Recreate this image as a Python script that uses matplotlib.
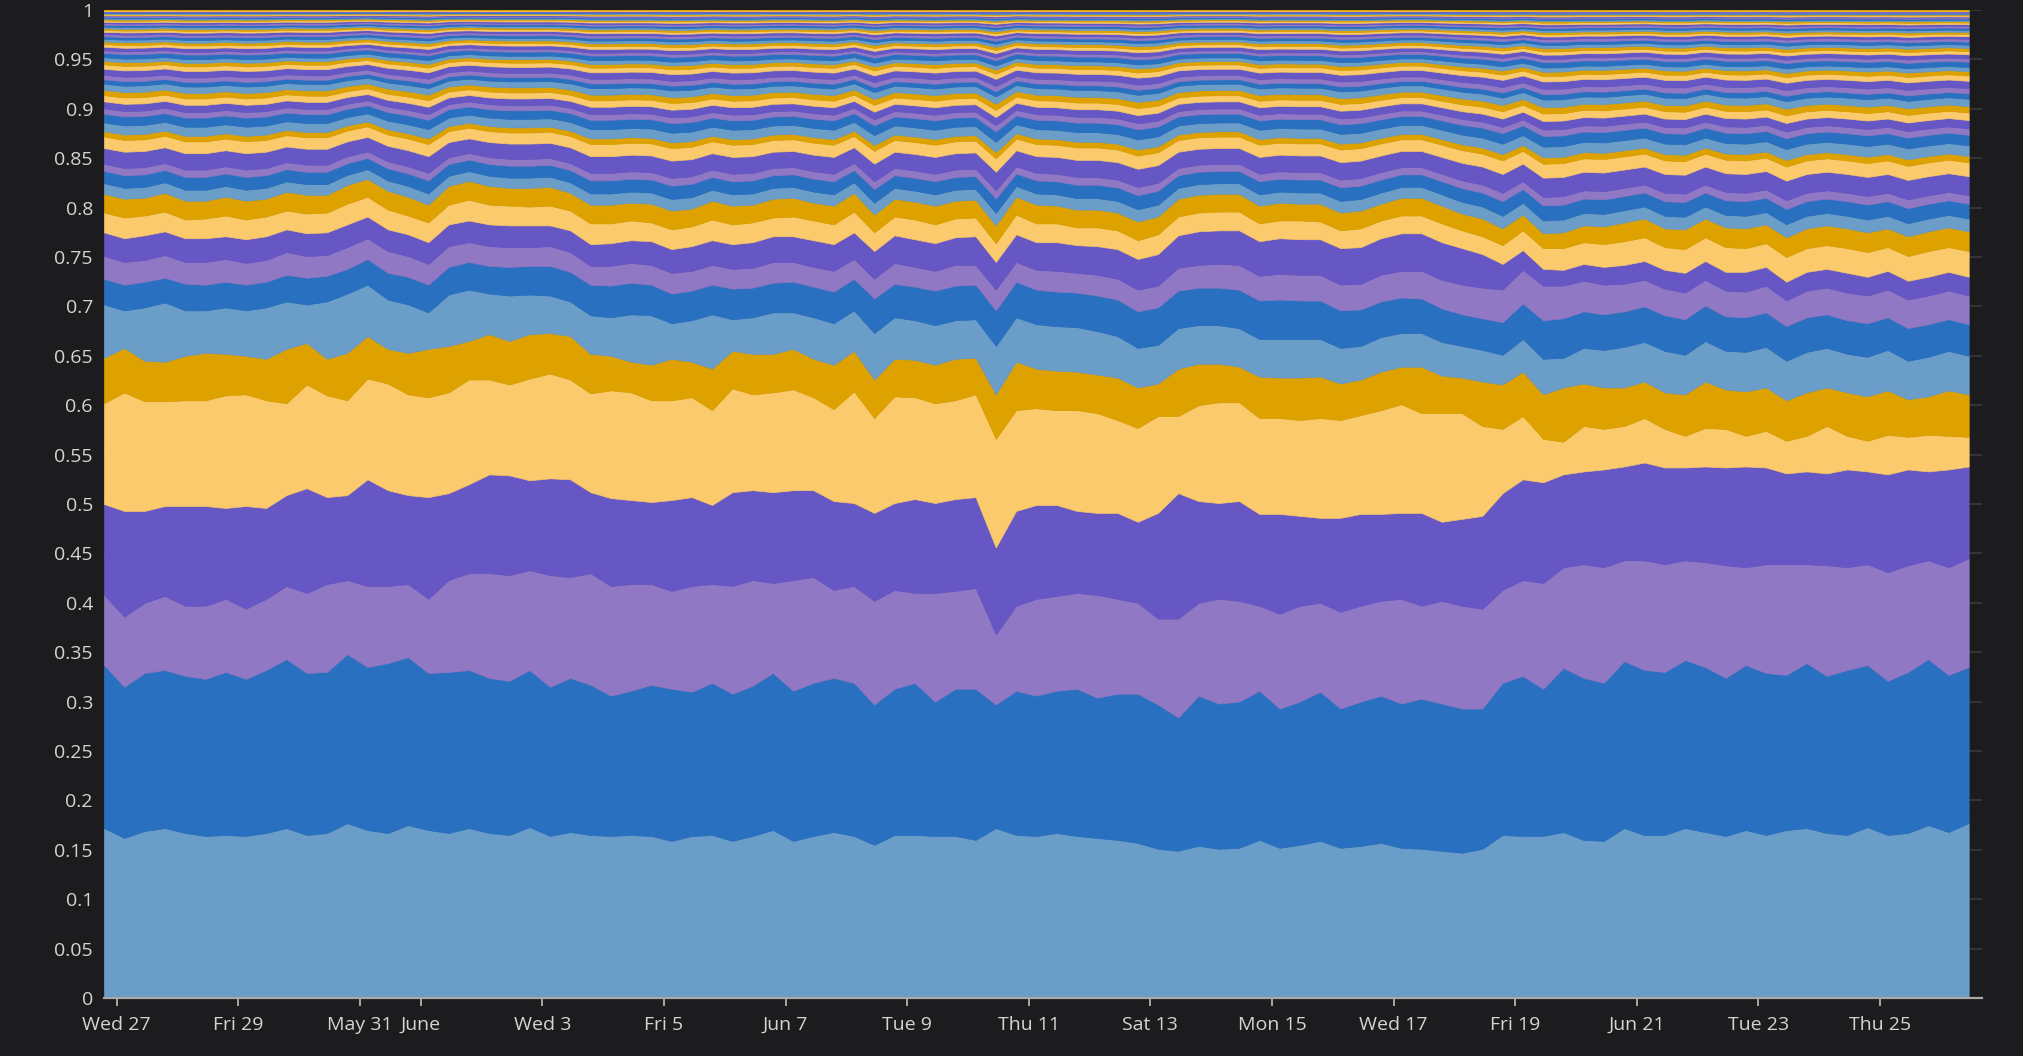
import numpy as np
import pandas as pd
import matplotlib
matplotlib.use("Agg")
import matplotlib.pyplot as plt

# samples every 8 hours, 26 May 19:00 -> 26 June 11:00 (2020)
times = pd.date_range("2020-05-26 19:00", periods=93, freq="8h")

# shares of the twelve biggest series (bottom to top)
share_01 = [.172, .162, .169, .172, .167, .164, .165, .164, .167, .172, .165, .167, .177, .170, .167, .175, .170, .167, .172,
            .167, .165, .173, .164, .168, .165, .164, .165, .164, .159, .164, .165, .159, .164, .170, .159, .164, .168, .164,
            .155, .165, .165, .164, .164, .160, .172, .165, .164, .167, .164, .162, .160, .157, .151, .149, .154, .151,
            .152, .160, .152, .155, .159, .152, .154, .157, .152, .151, .149, .147, .151, .165, .164, .164, .168, .160, .159,
            .172, .165, .165, .172, .168, .164, .170, .165, .170, .172, .167, .165, .173, .165, .167, .175, .168, .177]
share_02 = [.165, .153, .160, .160, .159, .159, .165, .159, .165, .171, .164, .163, .171, .165, .172, .170, .159, .163, .160,
            .157, .156, .159, .151, .156, .152, .142, .146, .153, .154, .146, .154, .149, .152, .159, .152, .155, .156, .155,
            .142, .148, .154, .136, .149, .153, .125, .146, .142, .144, .149, .142, .148, .151, .146, .135, .152, .147,
            .148, .151, .141, .145, .151, .141, .146, .149, .146, .152, .149, .146, .142, .154, .162, .149, .166, .164, .160,
            .169, .167, .165, .170, .167, .160, .167, .164, .157, .167, .159, .167, .164, .156, .163, .168, .159, .158]
share_03 = [.071, .071, .071, .075, .071, .074, .074, .071, .072, .074, .081, .089, .075, .082, .078, .074, .075, .093, .098,
            .106, .107, .101, .113, .102, .113, .111, .108, .102, .099, .107, .100, .109, .107, .091, .112, .107, .089, .098,
            .105, .100, .091, .110, .099, .102, .071, .086, .098, .096, .097, .104, .096, .092, .087, .100, .094, .106,
            .102, .086, .096, .097, .090, .098, .097, .096, .106, .094, .104, .104, .101, .094, .097, .107, .102, .115, .117,
            .102, .111, .109, .101, .106, .114, .099, .110, .112, .100, .112, .104, .102, .110, .108, .100, .109, .110]
share_04 = [.092, .107, .093, .091, .101, .101, .092, .104, .092, .092, .106, .088, .086, .108, .097, .090, .103, .088, .090,
            .100, .101, .091, .098, .099, .082, .089, .085, .083, .092, .090, .080, .095, .091, .092, .091, .088, .090, .084,
            .089, .088, .095, .091, .093, .092, .088, .096, .095, .092, .083, .083, .087, .082, .107, .127, .103, .097,
            .101, .093, .101, .091, .086, .095, .093, .088, .087, .094, .080, .088, .094, .098, .102, .102, .094, .094, .099,
            .095, .099, .098, .094, .097, .099, .102, .098, .092, .094, .093, .099, .094, .099, .097, .090, .099, .093]
share_05 = [.102, .120, .111, .106, .107, .107, .114, .113, .109, .093, .105, .103, .096, .102, .108, .102, .101, .102, .106,
            .096, .092, .103, .106, .101, .100, .109, .109, .103, .101, .101, .096, .105, .097, .101, .102, .094, .093, .113,
            .096, .108, .103, .101, .100, .104, .110, .102, .098, .096, .102, .101, .094, .095, .098, .078, .097, .102,
            .100, .097, .097, .097, .101, .099, .100, .105, .110, .101, .110, .107, .091, .065, .064, .044, .033, .046, .041,
            .041, .045, .039, .032, .039, .039, .031, .037, .033, .036, .048, .034, .031, .040, .033, .037, .034, .030]
share_06 = [.046, .045, .041, .040, .045, .048, .042, .039, .042, .055, .042, .037, .048, .043, .035, .042, .049, .047, .039,
            .046, .044, .045, .041, .044, .040, .035, .031, .036, .042, .036, .042, .038, .041, .039, .041, .039, .045, .041,
            .039, .038, .038, .039, .042, .037, .045, .049, .040, .040, .039, .039, .043, .041, .033, .048, .042, .039,
            .036, .042, .041, .043, .042, .037, .036, .039, .038, .047, .038, .036, .045, .045, .045, .045, .055, .043, .042,
            .039, .037, .037, .042, .047, .040, .045, .044, .041, .044, .039, .044, .045, .045, .038, .039, .046, .043]
share_07 = [.054, .038, .054, .060, .046, .043, .047, .046, .052, .048, .039, .058, .060, .052, .050, .049, .037, .052, .052,
            .041, .046, .040, .038, .035, .039, .039, .048, .050, .036, .042, .055, .032, .037, .042, .037, .042, .042, .041,
            .047, .042, .040, .040, .039, .039, .049, .045, .045, .045, .045, .044, .042, .040, .039, .041, .039, .039,
            .039, .038, .039, .039, .038, .036, .034, .035, .034, .034, .034, .032, .032, .030, .033, .036, .030, .036, .038,
            .041, .040, .042, .040, .041, .039, .040, .041, .040, .041, .040, .039, .040, .041, .039, .040, .040, .039]
share_08 = [.026, .026, .026, .025, .027, .026, .026, .026, .026, .027, .027, .026, .025, .026, .027, .028, .028, .028, .028,
            .028, .029, .029, .030, .030, .031, .032, .032, .031, .030, .030, .030, .031, .030, .030, .031, .031, .032, .032,
            .035, .034, .034, .035, .035, .035, .036, .036, .035, .035, .035, .036, .037, .037, .038, .038, .038, .038,
            .039, .039, .040, .039, .039, .038, .037, .036, .036, .035, .034, .032, .032, .033, .036, .039, .040, .037, .036,
            .036, .036, .036, .036, .036, .035, .035, .035, .035, .035, .034, .034, .034, .033, .033, .033, .032, .032]
share_09 = [.023, .023, .022, .023, .022, .023, .023, .022, .022, .023, .022, .021, .022, .021, .022, .021, .021, .021, .020,
            .020, .020, .019, .020, .020, .019, .020, .020, .020, .021, .020, .020, .020, .020, .021, .020, .020, .021, .020,
            .020, .021, .020, .020, .021, .020, .021, .020, .020, .021, .020, .021, .021, .022, .022, .023, .023, .024,
            .025, .025, .026, .026, .026, .026, .026, .027, .027, .028, .029, .030, .031, .033, .034, .035, .033, .031, .030,
            .028, .027, .027, .027, .026, .026, .026, .027, .026, .027, .027, .028, .028, .028, .029, .029, .029, .029]
share_10 = [.024, .024, .025, .024, .024, .024, .023, .024, .024, .023, .023, .023, .023, .022, .022, .022, .022, .022, .022,
            .022, .022, .022, .021, .022, .022, .023, .023, .024, .024, .025, .025, .025, .026, .026, .026, .027, .027, .027,
            .028, .028, .028, .028, .028, .029, .028, .028, .028, .029, .028, .029, .030, .031, .032, .033, .034, .034,
            .035, .035, .036, .036, .036, .037, .037, .037, .038, .038, .038, .037, .034, .026, .020, .017, .016, .017, .018,
            .019, .019, .019, .020, .019, .019, .020, .019, .019, .019, .019, .020, .019, .019, .019, .019, .019, .019]
share_11 = [.020, .021, .020, .020, .019, .020, .021, .020, .020, .019, .020, .020, .021, .020, .020, .019, .020, .020, .021,
            .020, .020, .019, .020, .020, .021, .020, .020, .019, .020, .020, .021, .020, .020, .019, .020, .020, .020, .021,
            .019, .019, .020, .019, .019, .019, .019, .020, .019, .019, .018, .019, .019, .019, .020, .019, .019, .019,
            .019, .018, .018, .019, .018, .018, .019, .018, .018, .018, .019, .018, .018, .019, .020, .021, .022, .022, .023,
            .024, .024, .023, .024, .024, .025, .024, .024, .025, .024, .024, .025, .025, .024, .025, .026, .025, .026]
share_12 = [.019, .019, .018, .019, .019, .018, .019, .019, .018, .019, .019, .018, .019, .018, .019, .019, .018, .019, .019,
            .019, .018, .019, .019, .018, .019, .019, .018, .019, .019, .018, .019, .019, .018, .019, .019, .018, .019, .019,
            .018, .018, .018, .019, .018, .018, .018, .018, .019, .018, .018, .018, .018, .019, .018, .018, .018, .018,
            .018, .018, .018, .017, .018, .018, .018, .017, .018, .018, .018, .017, .018, .017, .016, .015, .016, .017, .018,
            .019, .019, .019, .020, .019, .020, .020, .019, .020, .020, .020, .020, .020, .019, .020, .020, .020, .020]

# relative sizes of the many thin series stacked on top
top_weights = [.012, .014, .008, .018, .013, .006, .010, .010, .006, .008, .007, .006,
               .007, .005, .005, .007, .005, .004, .004, .005, .003, .004, .003, .003,
               .003, .003, .0025, .0025, .002, .002, .002, .002, .0018, .0016, .0015, .0014,
               .0012, .0012, .001, .001, .001, .0009, .0008, .0008, .0007, .0007, .0006, .0006]

palette = ["#6a9dc7", "#2970c1", "#9178c5", "#6757c5", "#faca6c", "#dda100"]

tick_dates = ["2020-05-27", "2020-05-29", "2020-05-31", "2020-06-01", "2020-06-03", "2020-06-05",
              "2020-06-07", "2020-06-09", "2020-06-11", "2020-06-13", "2020-06-15", "2020-06-17",
              "2020-06-19", "2020-06-21", "2020-06-23", "2020-06-25"]
tick_labels = ["Wed 27", "Fri 29", "May 31", "June", "Wed 3", "Fri 5", "Jun 7", "Tue 9",
               "Thu 11", "Sat 13", "Mon 15", "Wed 17", "Fri 19", "Jun 21", "Tue 23", "Thu 25"]

main = np.array([share_01, share_02, share_03, share_04, share_05, share_06,
                 share_07, share_08, share_09, share_10, share_11, share_12])
rest = 1 - main.sum(axis=0)
w = np.array(top_weights)
layers = np.vstack([main, np.outer(w / w.sum(), rest)])
colors = [palette[i % len(palette)] for i in range(len(layers))]

bg = "#1c1c1e"
txt = "#d4d4d4"
plt.rcParams["font.family"] = ["Open Sans", "DejaVu Sans"]

fig = plt.figure(figsize=(20.24, 10.56), dpi=100, facecolor=bg)
ax = fig.add_axes([104 / 2024, 58 / 1056, (1982 - 104) / 2024, 988 / 1056])
ax.set_facecolor(bg)

ax.stackplot(times, layers, colors=colors, linewidth=0.5, edgecolor="face")

ax.set_xlim(times[0], pd.Timestamp("2020-06-26 16:15"))
ax.set_ylim(0, 1)

yt = np.round(np.arange(0, 1.0001, 0.05), 2)
ax.set_yticks(yt)
ax.set_yticklabels([f"{v:g}" for v in yt])
ax.set_xticks(pd.to_datetime(tick_dates))
ax.set_xticklabels(tick_labels)

ax.yaxis.grid(True, color="#3a3a3c", linewidth=1.2)
ax.set_axisbelow(True)
for s in ["left", "right", "top"]:
    ax.spines[s].set_visible(False)
ax.spines["bottom"].set_color("#a9a9a9")
ax.spines["bottom"].set_linewidth(1.6)

ax.tick_params(axis="y", length=0, pad=8, labelcolor=txt, labelsize=14)
ax.tick_params(axis="x", length=6, width=1.4, color="#a9a9a9", pad=7,
               labelcolor=txt, labelsize=14)

fig.savefig("out.png", dpi=100, facecolor=bg)
